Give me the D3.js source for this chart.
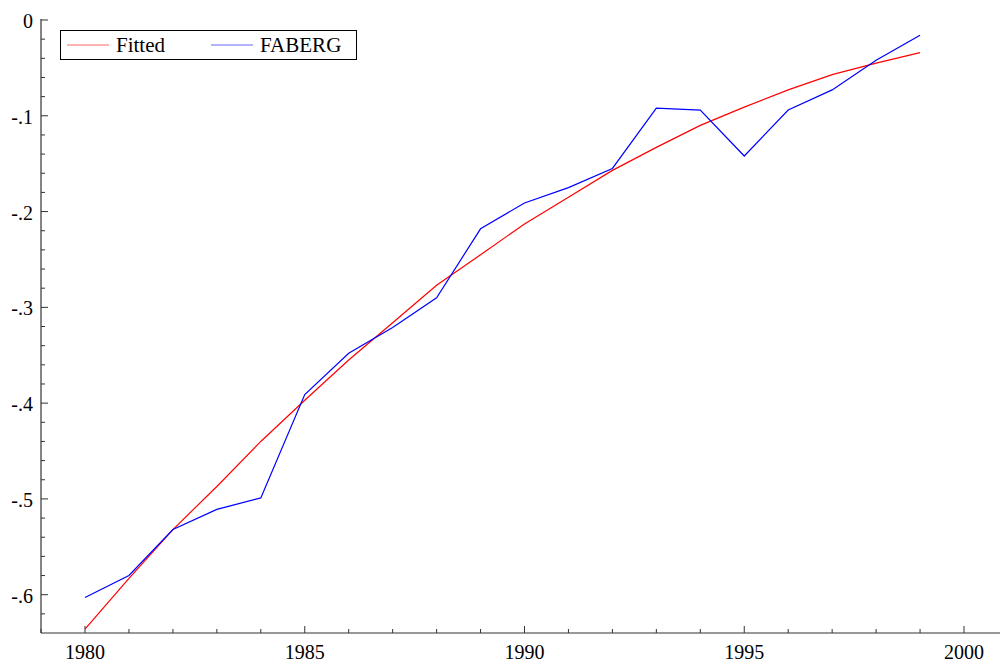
<!DOCTYPE html>
<html><head><meta charset="utf-8">
<script src="https://cdn.jsdelivr.net/npm/d3@7"></script>
<style>body{margin:0;background:#fff}svg{display:block}</style>
</head><body>
<svg id="c" width="1000" height="662"></svg>
<script>
const years = d3.range(1980, 2000);
const faberg = [-0.603,-0.580,-0.532,-0.511,-0.499,-0.391,-0.348,-0.321,-0.290,-0.218,-0.191,-0.175,-0.155,-0.092,-0.094,-0.142,-0.094,-0.073,-0.042,-0.016];
const fitted = [-0.636,-0.583,-0.532,-0.487,-0.440,-0.397,-0.355,-0.316,-0.277,-0.245,-0.213,-0.185,-0.157,-0.133,-0.110,-0.091,-0.073,-0.057,-0.045,-0.034];
const yTickVals = [0,-0.1,-0.2,-0.3,-0.4,-0.5,-0.6];
const yTickLabels = ["0","-.1","-.2","-.3","-.4","-.5","-.6"];
const xTickVals = [1980,1985,1990,1995,2000];
const seriesNames = ["Fitted","FABERG"];
const seriesColors = ["#ff0000","#0000ff"];

const svg = d3.select("#c");
const x = d3.scaleLinear().domain([1980, 2000]).range([85, 964]);
const y = d3.scaleLinear().domain([-0.64, 0]).range([633, 20]);
const axisColor = "#333";
const font = "'Liberation Serif','Times New Roman',serif";

// axes lines
svg.append("line").attr("x1",41).attr("x2",1000).attr("y1",633).attr("y2",633).attr("stroke",axisColor).attr("stroke-width",1.2);
svg.append("line").attr("x1",41).attr("x2",41).attr("y1",19).attr("y2",633).attr("stroke",axisColor).attr("stroke-width",1.2);

// y ticks
const yMinor = d3.range(0, 32).map(i => -i*0.02).filter(v => v >= -0.64);
yMinor.forEach(v => {
  const major = Math.abs(Math.round(v*10) - v*10) < 1e-6;
  svg.append("line").attr("x1",41).attr("x2",41 + (major?7:4)).attr("y1",y(v)).attr("y2",y(v)).attr("stroke",axisColor).attr("stroke-width",1);
});
yTickVals.forEach((v,i) => {
  svg.append("text").attr("x",33).attr("y",y(v)+8).attr("text-anchor","end")
    .attr("font-family",font).attr("font-size",20).attr("fill","#000").text(yTickLabels[i]);
});

// x ticks
d3.range(1979, 2001).forEach(yr => {
  const major = yr % 5 === 0;
  svg.append("line").attr("x1",x(yr)).attr("x2",x(yr)).attr("y1",633).attr("y2",633-(major?7:4)).attr("stroke",axisColor).attr("stroke-width",1);
});
xTickVals.forEach(v => {
  svg.append("text").attr("x",x(v)).attr("y",659).attr("text-anchor","middle")
    .attr("font-family",font).attr("font-size",20).attr("fill","#000").text(v);
});

const line = d3.line().x((d,i)=>x(years[i])).y(d=>y(d));
svg.append("path").datum(fitted).attr("d",line).attr("fill","none").attr("stroke",seriesColors[0]).attr("stroke-width",1.2);
svg.append("path").datum(faberg).attr("d",line).attr("fill","none").attr("stroke",seriesColors[1]).attr("stroke-width",1.2);

// legend
svg.append("rect").attr("x",60.5).attr("y",30.5).attr("width",296).attr("height",29).attr("fill","#fff").attr("stroke","#000").attr("stroke-width",1);
const lx = [67, 211];
seriesNames.forEach((n,i) => {
  svg.append("line").attr("x1",lx[i]).attr("x2",lx[i]+42).attr("y1",45).attr("y2",45).attr("stroke",seriesColors[i]).attr("stroke-opacity",0.6).attr("stroke-width",1.2);
  svg.append("text").attr("x",lx[i]+49).attr("y",52).attr("font-family",font).attr("font-size",21).attr("fill","#000").text(n);
});
</script>
</body></html>
